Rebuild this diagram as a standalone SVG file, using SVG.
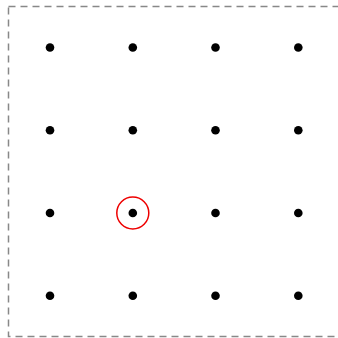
<svg xmlns="http://www.w3.org/2000/svg" width="338" height="338" viewBox="0 0 338 338">
<style>
.border{fill:none;stroke:#888;stroke-width:1.5;stroke-dasharray:7,5}
.dot{fill:#000}
.hl{fill:none;stroke:#e00;stroke-width:1.5}
</style>
<rect width="338" height="338" fill="#fff"/>
<rect class="border" x="8.5" y="6.5" width="340" height="330"/>
<g id="dots">
<circle class="dot" cx="50" cy="47.5" r="4.3"/><circle class="dot" cx="132.8" cy="47.5" r="4.3"/><circle class="dot" cx="215.5" cy="47.5" r="4.3"/><circle class="dot" cx="298.3" cy="47.5" r="4.3"/>
<circle class="dot" cx="50" cy="130.3" r="4.3"/><circle class="dot" cx="132.8" cy="130.3" r="4.3"/><circle class="dot" cx="215.5" cy="130.3" r="4.3"/><circle class="dot" cx="298.3" cy="130.3" r="4.3"/>
<circle class="dot" cx="50" cy="213" r="4.3"/><circle class="dot" cx="132.8" cy="213" r="4.3"/><circle class="dot" cx="215.5" cy="213" r="4.3"/><circle class="dot" cx="298.3" cy="213" r="4.3"/>
<circle class="dot" cx="50" cy="295.8" r="4.3"/><circle class="dot" cx="132.8" cy="295.8" r="4.3"/><circle class="dot" cx="215.5" cy="295.8" r="4.3"/><circle class="dot" cx="298.3" cy="295.8" r="4.3"/>
</g>
<g id="highlight"><circle class="hl" cx="132.8" cy="213" r="16"/></g>
</svg>
